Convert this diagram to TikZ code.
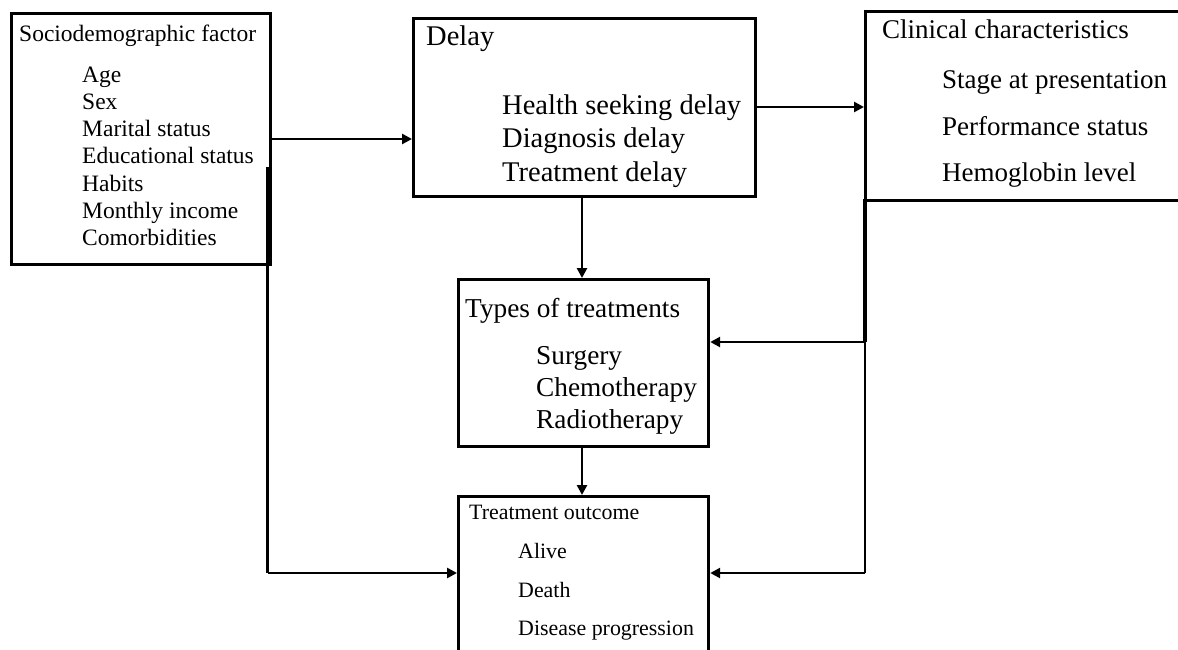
\documentclass[tikz,border=0pt]{standalone}
\usepackage{fontspec}
\setmainfont{Liberation Serif}
\usetikzlibrary{arrows.meta}
\tikzset{
  box/.style={draw=black, line width=3.2pt, inner sep=0pt, anchor=north west},
  conn/.style={draw=black, line width=2.8pt},
  arr/.style={conn, -{Triangle[length=10pt,width=10pt]}},
  txt/.style={anchor=base west, inner sep=0pt},
}
\newcommand{\fs}[1]{\fontsize{#1}{#1}\selectfont}
\begin{document}
\begin{tikzpicture}[x=1pt,y=-1pt]
\useasboundingbox (0,0) rectangle (1178,650);
\clip (0,0) rectangle (1178,650);
\fill[white] (0,0) rectangle (1178,650);

% boxes
\node[box, minimum width=259pt, minimum height=251pt] (socio) at (10,12) {};
\node[box, minimum width=342pt, minimum height=178pt] (delay) at (412,17) {};
\node[box, minimum width=340pt, minimum height=189pt] (clin) at (864,10) {};
\node[box, minimum width=250pt, minimum height=167pt] (types) at (457,278) {};
\node[box, minimum width=250pt, minimum height=200pt] (out) at (457,495) {};

% texts: sociodemographic
\node[txt] (t1) at (19,41.5) {\fs{23.5}Sociodemographic factor};
\node[txt] (t1a) at (82,83) {\fs{23.5}Age};
\node[txt] (t1b) at (82,110) {\fs{23.5}Sex};
\node[txt] (t1c) at (82,137) {\fs{23.5}Marital status};
\node[txt] (t1d) at (82,164) {\fs{23.5}Educational status};
\node[txt] (t1e) at (82,191) {\fs{23.5}Habits};
\node[txt] (t1f) at (82,218) {\fs{23.5}Monthly income};
\node[txt] (t1g) at (82,245) {\fs{23.5}Comorbidities};

% delay
\node[txt] (t2) at (426,46) {\fs{28.5}Delay};
\node[txt] (t2a) at (502,115) {\fs{28.5}Health seeking delay};
\node[txt] (t2b) at (502,148) {\fs{28.5}Diagnosis delay};
\node[txt] (t2c) at (502,181) {\fs{28.5}Treatment delay};

% clinical
\node[txt] (t3) at (882,39) {\fs{27}Clinical characteristics};
\node[txt] (t3a) at (942,89) {\fs{27}Stage at presentation};
\node[txt] (t3b) at (942,136) {\fs{27}Performance status};
\node[txt] (t3c) at (942,182) {\fs{27}Hemoglobin level};

% types
\node[txt] (t4) at (465,317) {\fs{27.3}Types of treatments};
\node[txt] (t4a) at (536,364) {\fs{27.3}Surgery};
\node[txt] (t4b) at (536,396) {\fs{27.3}Chemotherapy};
\node[txt] (t4c) at (536,428) {\fs{27.3}Radiotherapy};

% outcome
\node[txt] (t5) at (469,519) {\fs{21.9}Treatment outcome};
\node[txt] (t5a) at (518,558) {\fs{21.9}Alive};
\node[txt] (t5b) at (518,597) {\fs{21.9}Death};
\node[txt] (t5c) at (518,635) {\fs{21.9}Disease progression};

% junction coordinates
\coordinate (s1) at (267.5,167);
\coordinate (s2) at (267.5,573);
\coordinate (c1) at (865,199);
\coordinate (c2) at (865,342);
\coordinate (c3) at (865,573);

% connectors
\draw[arr] (socio.east |- 0,139) -- (delay.west |- 0,139);
\draw[arr] (delay.east |- 0,107) -- (clin.west |- 0,107);
\draw[arr] (delay.south -| 582,0) -- (types.north -| 582,0);
\draw[arr] (types.south -| 582,0) -- (out.north -| 582,0);
\draw[conn] (s1) -- (s2);
\draw[arr] (s2) -- (out.west |- s2);
\draw[conn, line width=3.6pt] (c1) -- (c2);
\draw[arr] (c2) -- (types.east |- c2);
\draw[conn] (c2) -- (c3);
\draw[arr] (c3) -- (out.east |- c3);
\end{tikzpicture}
\end{document}
